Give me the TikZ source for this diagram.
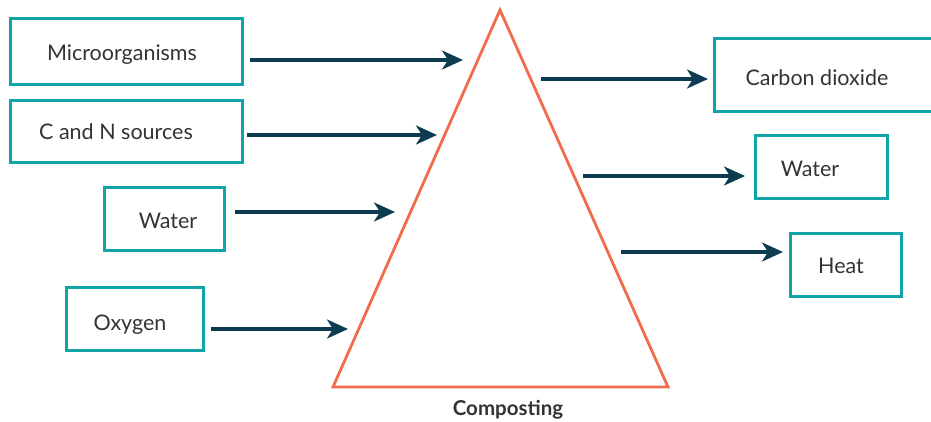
\documentclass[tikz,border=0pt]{standalone}
\usepackage{fontspec}
\setmainfont{Lato}
\usetikzlibrary{arrows.meta}
\definecolor{boxc}{HTML}{10A5A8}
\definecolor{arrc}{HTML}{0D3B4F}
\definecolor{trc}{HTML}{F26B4B}
\definecolor{txtc}{HTML}{333333}
\begin{document}
\begin{tikzpicture}[x=1pt,y=-1pt,
  box/.style={draw=boxc,line width=3pt,inner sep=0pt},
  lbl/.style={text=txtc,font=\fontsize{21.5}{24}\selectfont,inner sep=0pt,anchor=base},
  arr/.style={draw=arrc,line width=3.2pt,-{Stealth[length=21pt,width=19pt,inset=6pt]}},
  tri/.style={draw=trc,line width=2.8pt,line join=miter}]
\useasboundingbox (0,0) rectangle (931,421);
% left boxes
\node[box,minimum width=232pt,minimum height=66pt] (bmicro) at (126,51) {};
\node[lbl] (tmicro) at (122,60) {Microorganisms};
\node[box,minimum width=232pt,minimum height=62pt] (bcn) at (126,131) {};
\node[lbl] (tcn) at (116,139.5) {C and N sources};
\node[box,minimum width=120pt,minimum height=63pt] (bwl) at (164,218.5) {};
\node[lbl] (twl) at (168,228) {Water};
\node[box,minimum width=137pt,minimum height=63pt] (box) at (134.5,318.5) {};
\node[lbl] (tox) at (130,330) {Oxygen};
% right boxes
\node[box,minimum width=225pt,minimum height=73pt] (bco) at (826.5,74.5) {};
\node[lbl] (tco) at (817,85) {Carbon dioxide};
\node[box,minimum width=132pt,minimum height=63pt] (bwr) at (821,166.5) {};
\node[lbl] (twr) at (810,176) {Water};
\node[box,minimum width=111pt,minimum height=63pt] (bh) at (845.5,264.5) {};
\node[lbl] (th) at (841,273) {Heat};
% triangle
\coordinate (apex) at (500,10);
\coordinate (bl) at (333,387);
\coordinate (br) at (668,387);
\draw[tri] (apex) -- (bl) -- (br) -- cycle;
\node[text=txtc,font=\bfseries\fontsize{20.5}{22}\selectfont,inner sep=0pt,anchor=base] (comp) at (508,415) {Composting};
% arrow ends
\coordinate (a1s) at (250,60); \coordinate (a1e) at (463,60);
\coordinate (a2s) at (247,135); \coordinate (a2e) at (437,135);
\coordinate (a3s) at (235,212); \coordinate (a3e) at (395,212);
\coordinate (a4s) at (211,329); \coordinate (a4e) at (348,329);
\coordinate (b1s) at (541,79); \coordinate (b1e) at (708,79);
\coordinate (b2s) at (583,176); \coordinate (b2e) at (745,176);
\coordinate (b3s) at (621,252); \coordinate (b3e) at (783,252);
\draw[arr] (a1s) -- (a1e);
\draw[arr] (a2s) -- (a2e);
\draw[arr] (a3s) -- (a3e);
\draw[arr] (a4s) -- (a4e);
\draw[arr] (b1s) -- (b1e);
\draw[arr] (b2s) -- (b2e);
\draw[arr] (b3s) -- (b3e);
\end{tikzpicture}
\end{document}
